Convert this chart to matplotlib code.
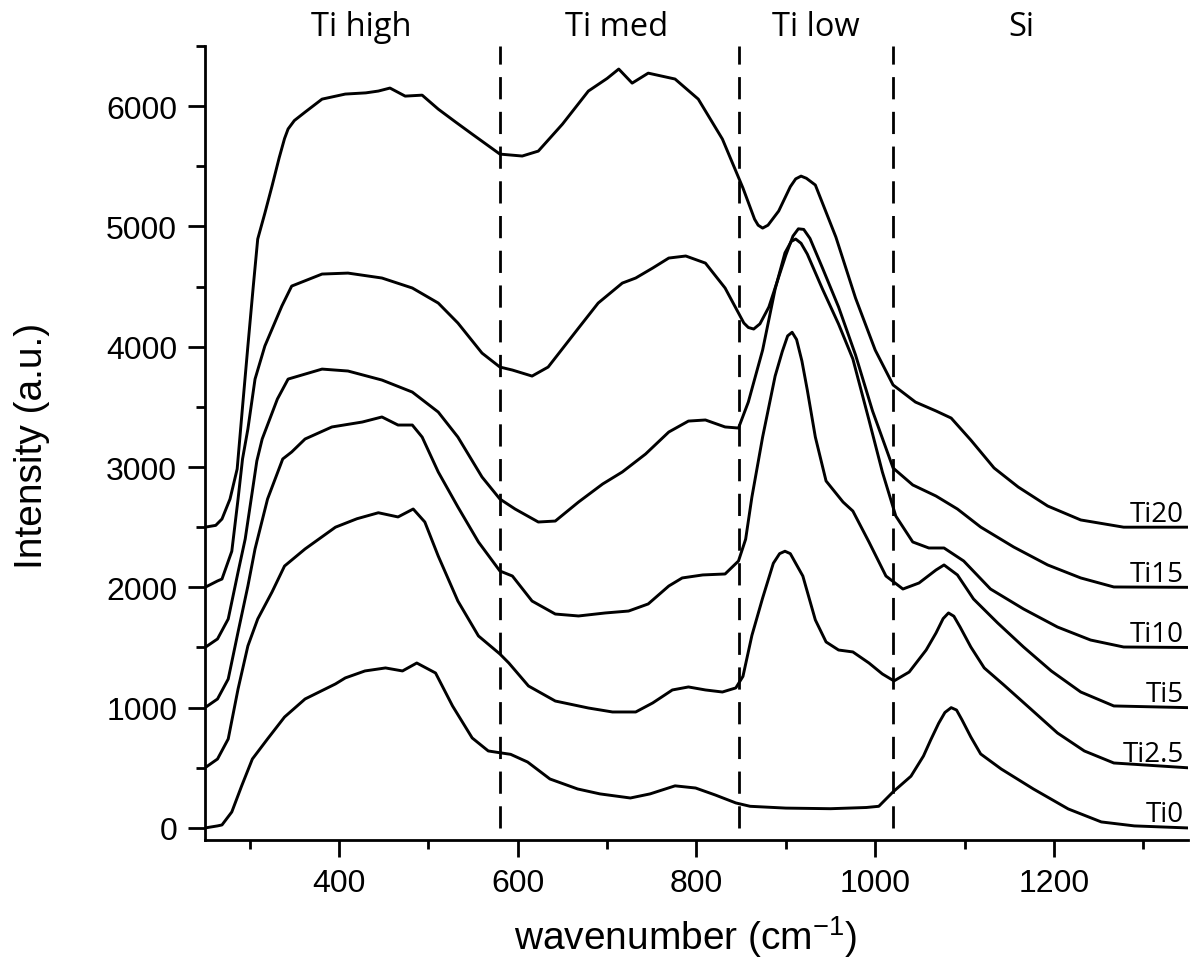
import matplotlib
matplotlib.use("Agg")
import matplotlib.pyplot as plt
from matplotlib.ticker import MultipleLocator

# Raman spectra, each curve already offset by 500 a.u.
ti0_x = [250, 264, 269, 280, 291, 303, 320, 339, 362, 396, 407, 429, 452, 471, 487, 508, 527, 549, 567,
         580, 592, 611, 636, 667, 692, 726, 748, 776, 799, 821, 844, 860, 900, 950, 990, 1004, 1020, 1040,
         1054, 1062, 1071, 1078, 1085, 1091, 1097, 1107, 1118, 1141, 1177, 1216, 1253, 1290, 1350]
ti0_y = [0, 17, 25, 133, 349, 573, 740, 922, 1072, 1197, 1247, 1305, 1330, 1305, 1371, 1288, 1014, 748, 640,
         625, 612, 548, 407, 324, 283, 249, 283, 350, 332, 274, 208, 180, 165, 160, 170, 180, 300, 430,
         598, 730, 870, 960, 1000, 980, 900, 756, 615, 490, 324, 158, 50, 17, 0]

ti25_x = [250, 264, 276, 287, 298, 309, 325, 339, 362, 396, 420, 444, 466, 483, 496, 511, 533, 556, 580, 590,
          612, 642, 679, 706, 732, 751, 773, 791, 810, 829, 844, 852, 862, 874, 886, 893, 899, 905, 911, 919,
          933, 945, 959, 975, 993, 1008, 1021, 1038, 1057, 1068, 1076, 1082, 1088, 1095, 1107, 1122, 1144,
          1174, 1204, 1234, 1267, 1350]
ti25_y = [500, 573, 740, 1155, 1513, 1737, 1961, 2177, 2319, 2500, 2570, 2620, 2585, 2651, 2543, 2260, 1886,
          1596, 1446, 1371, 1180, 1055, 997, 964, 964, 1039, 1147, 1172, 1147, 1130, 1164, 1260, 1600, 1911,
          2200, 2280, 2300, 2280, 2200, 2094, 1729, 1546, 1479, 1463, 1371, 1280, 1222, 1296, 1479, 1620,
          1740, 1787, 1760, 1670, 1504, 1330, 1188, 989, 789, 640, 540, 500]

ti5_x = [250, 264, 276, 287, 298, 306, 320, 337, 347, 362, 392, 426, 448, 466, 482, 493, 511, 533, 556, 580,
         594, 616, 642, 668, 698, 724, 746, 769, 784, 807, 832, 847, 855, 862, 874, 888, 896, 902, 907, 912,
         918, 924, 933, 945, 964, 975, 993, 1012, 1031, 1049, 1068, 1077, 1092, 1110, 1137, 1166, 1197, 1230,
         1267, 1350]
ti5_y = [1000, 1072, 1238, 1629, 2011, 2319, 2734, 3067, 3125, 3233, 3333, 3374, 3416, 3349, 3349, 3249, 2959,
         2668, 2377, 2136, 2094, 1886, 1778, 1762, 1787, 1803, 1862, 2011, 2078, 2103, 2111, 2219, 2400, 2750,
         3249, 3756, 3960, 4090, 4120, 4060, 3880, 3640, 3249, 2884, 2709, 2634, 2377, 2094, 1986, 2036, 2144,
         2186, 2103, 1903, 1704, 1504, 1305, 1130, 1014, 1000]

ti10_x = [250, 264, 276, 287, 295, 303, 308, 314, 331, 343, 381, 410, 448, 482, 511, 533, 560, 580, 597, 623,
          642, 668, 695, 717, 743, 769, 791, 810, 832, 847, 858, 874, 888, 899, 906, 911, 917, 924, 941, 959,
          975, 993, 1008, 1023, 1042, 1060, 1077, 1099, 1129, 1166, 1204, 1241, 1278, 1350]
ti10_y = [1500, 1571, 1737, 2127, 2402, 2800, 3050, 3233, 3565, 3731, 3814, 3798, 3723, 3623, 3457, 3249, 2917,
          2734, 2651, 2543, 2551, 2709, 2859, 2959, 3108, 3291, 3382, 3391, 3333, 3324, 3540, 3972, 4479, 4780,
          4875, 4895, 4860, 4770, 4479, 4188, 3898, 3391, 2959, 2593, 2377, 2327, 2327, 2219, 1986, 1820, 1670,
          1562, 1504, 1500]

ti15_x = [250, 264, 269, 280, 287, 292, 298, 306, 317, 336, 347, 381, 410, 448, 482, 511, 533, 560, 580, 594,
          616, 634, 668, 690, 717, 732, 751, 769, 788, 810, 832, 853, 858, 864, 871, 881, 900, 908, 914, 920,
          927, 941, 959, 978, 997, 1020, 1042, 1068, 1092, 1118, 1155, 1193, 1230, 1267, 1350]
ti15_y = [2000, 2053, 2069, 2300, 2734, 3067, 3316, 3731, 4006, 4338, 4504, 4604, 4612, 4571, 4488, 4363, 4197,
          3947, 3831, 3806, 3756, 3831, 4155, 4363, 4529, 4571, 4654, 4737, 4754, 4695, 4488, 4197, 4160, 4147,
          4190, 4330, 4762, 4920, 4980, 4975, 4900, 4654, 4330, 3931, 3466, 2992, 2851, 2759, 2651, 2501, 2335,
          2186, 2078, 2003, 2000]

ti20_x = [250, 262, 269, 278, 286, 292, 298, 304, 309, 317, 325, 333, 339, 343, 350, 362, 381, 407, 430, 444,
          457, 474, 493, 511, 530, 549, 580, 605, 623, 650, 679, 700, 713, 728, 746, 776, 802, 829, 852, 865,
          869, 874, 880, 892, 905, 911, 917, 923, 933, 956, 978, 1000, 1020, 1045, 1068, 1085, 1107, 1133, 1160,
          1193, 1230, 1278, 1350]
ti20_y = [2500, 2515, 2568, 2734, 2984, 3500, 4006, 4500, 4895, 5110, 5335, 5570, 5730, 5810, 5880, 5950, 6058,
          6100, 6110, 6125, 6150, 6083, 6091, 5975, 5870, 5767, 5601, 5585, 5626, 5850, 6125, 6230, 6308, 6191,
          6274, 6225, 6058, 5726, 5319, 5060, 5010, 4986, 5010, 5128, 5330, 5395, 5418, 5400, 5344, 4911, 4404,
          3972, 3682, 3540, 3466, 3407, 3224, 2992, 2834, 2676, 2560, 2500, 2500]

series = [("Ti0", ti0_x, ti0_y, 0), ("Ti2.5", ti25_x, ti25_y, 500), ("Ti5", ti5_x, ti5_y, 1000),
          ("Ti10", ti10_x, ti10_y, 1500), ("Ti15", ti15_x, ti15_y, 2000), ("Ti20", ti20_x, ti20_y, 2500)]

region_bounds = [580, 848, 1020]
region_names = ["Ti high", "Ti med", "Ti low", "Si"]
region_centers = [425, 710, 934, 1163]

plt.rcParams['font.family'] = ['Liberation Sans', 'DejaVu Sans']
plt.rcParams['mathtext.fontset'] = 'custom'
plt.rcParams['mathtext.rm'] = 'Liberation Sans'
plt.rcParams['mathtext.it'] = 'Liberation Sans:italic'

fig = plt.figure(figsize=(11.96, 9.78), dpi=100)
ax = fig.add_axes([0.1714, 0.1401, 0.8219, 0.8119])

for name, xs, ys, base in series:
    ax.plot(xs, ys, color='black', lw=2.1, solid_joinstyle='round')
    ax.text(1345, base + 55, name, ha='right', va='baseline', fontsize=20, family=['Open Sans', 'DejaVu Sans'])

for xb in region_bounds:
    ax.plot([xb, xb], [0, 6500], color='black', lw=2.0, dashes=(8, 4.5), clip_on=False)

for name, xc in zip(region_names, region_centers):
    ax.text(xc, 6590, name, ha='center', va='baseline', fontsize=23.5, clip_on=False,
            family=['Open Sans', 'DejaVu Sans'])

ax.set_xlim(250, 1350)
ax.set_ylim(-100, 6500)
ax.xaxis.set_major_locator(MultipleLocator(200))
ax.xaxis.set_minor_locator(MultipleLocator(100))
ax.yaxis.set_major_locator(MultipleLocator(1000))
ax.yaxis.set_minor_locator(MultipleLocator(500))

for side in ['top', 'right']:
    ax.spines[side].set_visible(False)
for side in ['left', 'bottom']:
    ax.spines[side].set_linewidth(2.0)

ax.tick_params(which='major', direction='out', length=12, width=2.0, labelsize=23, pad=8)
ax.tick_params(which='minor', direction='out', length=6.5, width=2.0)

ax.set_xlabel("wavenumber (cm$^{-1}$)", fontsize=28)
ax.set_ylabel("Intensity (a.u.)", fontsize=28)
ax.xaxis.set_label_coords(0.489, -0.092)
ax.yaxis.set_label_coords(-0.158, 0.497)

fig.savefig("out.png", dpi=100)
